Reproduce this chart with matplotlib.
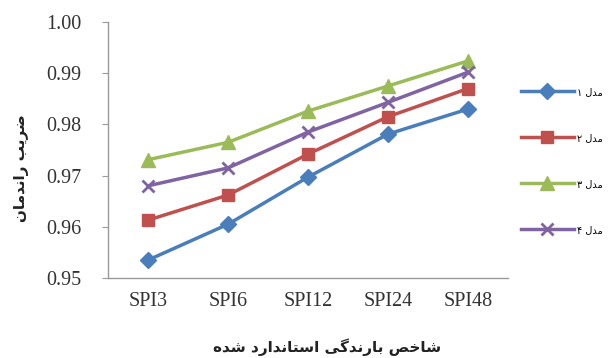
import matplotlib
matplotlib.use('Agg')
import matplotlib.pyplot as plt
from matplotlib.ticker import FormatStrFormatter

# Arabic letters -> (isolated, final, initial, medial); right-joining letters have no initial/medial
FORMS = {
    'ا': ('\uFE8D', '\uFE8E', None, None),
    'ب': ('\uFE8F', '\uFE90', '\uFE91', '\uFE92'),
    'ت': ('\uFE95', '\uFE96', '\uFE97', '\uFE98'),
    'خ': ('\uFEA5', '\uFEA6', '\uFEA7', '\uFEA8'),
    'د': ('\uFEA9', '\uFEAA', None, None),
    'ر': ('\uFEAD', '\uFEAE', None, None),
    'س': ('\uFEB1', '\uFEB2', '\uFEB3', '\uFEB4'),
    'ش': ('\uFEB5', '\uFEB6', '\uFEB7', '\uFEB8'),
    'ص': ('\uFEB9', '\uFEBA', '\uFEBB', '\uFEBC'),
    'ض': ('\uFEBD', '\uFEBE', '\uFEBF', '\uFEC0'),
    'ل': ('\uFEDD', '\uFEDE', '\uFEDF', '\uFEE0'),
    'م': ('\uFEE1', '\uFEE2', '\uFEE3', '\uFEE4'),
    'ن': ('\uFEE5', '\uFEE6', '\uFEE7', '\uFEE8'),
    'ه': ('\uFEE9', '\uFEEA', '\uFEEB', '\uFEEC'),
    'ی': ('\uFEEF', '\uFEF0', '\uFEF3', '\uFEF4'),
    'گ': ('\uFB92', '\uFB93', '\uFB94', '\uFB95'),
}


def joins_next(ch):
    return ch in FORMS and FORMS[ch][2] is not None


def shape(text):
    out = []
    for i, ch in enumerate(text):
        if ch not in FORMS:
            out.append(ch)
            continue
        prev = text[i - 1] if i > 0 else ''
        nxt = text[i + 1] if i + 1 < len(text) else ''
        p = joins_next(prev)
        n = joins_next(ch) and nxt in FORMS
        iso, fin, ini, med = FORMS[ch]
        if p and n:
            out.append(med)
        elif p:
            out.append(fin)
        elif n:
            out.append(ini)
        else:
            out.append(iso)
    return ''.join(reversed(out))


categories = ['SPI3', 'SPI6', 'SPI12', 'SPI24', 'SPI48']
model1 = [0.9535, 0.9605, 0.9697, 0.9781, 0.9830]
model2 = [0.9613, 0.9662, 0.9742, 0.9815, 0.9870]
model3 = [0.9731, 0.9765, 0.9826, 0.9875, 0.9924]
model4 = [0.9680, 0.9715, 0.9785, 0.9843, 0.9902]
labels = ['مدل ۱', 'مدل ۲', 'مدل ۳', 'مدل ۴']
y_ticks = [0.95, 0.96, 0.97, 0.98, 0.99, 1.00]

series = [
    (model1, '#4A7EBB', 'D', 8),
    (model2, '#C0504D', 's', 9),
    (model3, '#9BBB59', '^', 10),
    (model4, '#8064A2', 'x', 9),
]

fig = plt.figure(figsize=(6.1, 3.58), dpi=100)
ax = fig.add_axes([108 / 610, 1 - 278 / 358, 400 / 610, 256 / 358])

x = range(len(categories))
for (vals, color, marker, ms), label in zip(series, labels):
    ax.plot(x, vals, color=color, lw=2.5, marker=marker, ms=ms,
            mew=2 if marker == 'x' else 1, label=shape(label))

ax.set_xlim(-0.5, len(categories) - 0.5)
ax.set_ylim(0.95, 1.00)
ax.set_yticks(y_ticks)
ax.yaxis.set_major_formatter(FormatStrFormatter('%.2f'))
ax.set_xticks(list(x))
ax.set_xticklabels(categories)

for side in ['top', 'right']:
    ax.spines[side].set_visible(False)
for side in ['left', 'bottom']:
    ax.spines[side].set_color('#9a9a9a')
    ax.spines[side].set_linewidth(1)

ax.tick_params(axis='y', length=4, color='#9a9a9a', pad=15)
ax.tick_params(axis='x', length=0, pad=10)
for t in ax.get_xticklabels() + ax.get_yticklabels():
    t.set_fontfamily('Liberation Serif')
    t.set_fontsize(14.5)
    t.set_color('#333333')

# axis titles placed in figure coordinates
fig.text(327 / 610, 1 - 347 / 358, shape('شاخص بارندگی استاندارد شده'),
         fontsize=11, fontweight='bold', family='DejaVu Sans',
         color='#222222', ha='center', va='center')
fig.text(22 / 610, 1 - 168 / 358, shape('ضریب راندمان'), rotation=90,
         fontsize=11, fontweight='bold', family='DejaVu Sans',
         color='#222222', ha='center', va='center')

leg = fig.legend(loc='upper left', bbox_to_anchor=(512 / 610, 1 - 78 / 358),
                 frameon=False, fontsize=7, handlelength=5.5,
                 labelspacing=3.7, handletextpad=0.3)
for t in leg.get_texts():
    t.set_fontfamily('DejaVu Sans')

fig.savefig('out.png', dpi=100)
